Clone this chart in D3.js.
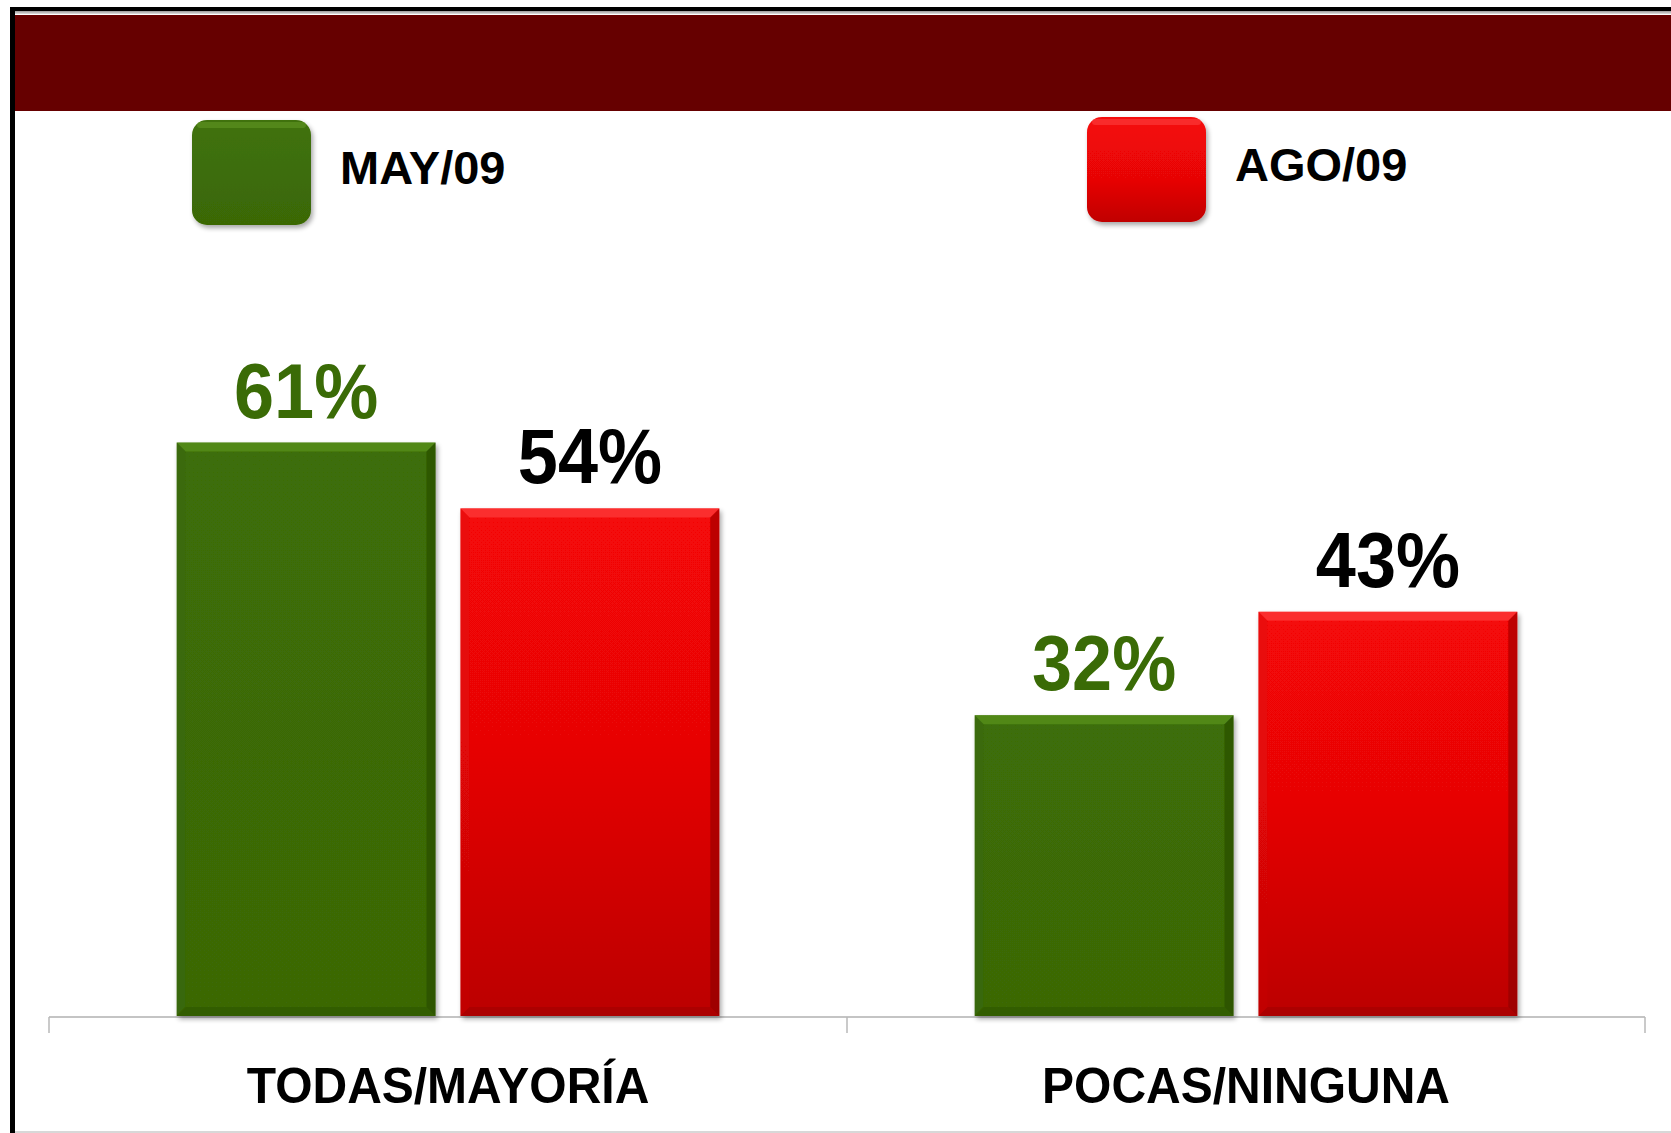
<!DOCTYPE html>
<html>
<head>
<meta charset="utf-8">
<script src="https://cdn.jsdelivr.net/npm/d3@7"></script>
<style>
html,body{margin:0;padding:0;background:#fff;}
svg{display:block;}
</style>
</head>
<body>
<script>
const categories = ["TODAS/MAYORÍA", "POCAS/NINGUNA"];
const series = ["MAY/09", "AGO/09"];
const mayValues = [61, 32];
const agoValues = [54, 43];
const valueLabels = [["61%", "54%"], ["32%", "43%"]];

const W = 1671, H = 1133;
const svg = d3.select("body").append("svg").attr("width", W).attr("height", H);
const defs = svg.append("defs");

function lin(id, stops, horiz) {
  const g = defs.append("linearGradient").attr("id", id).attr("x1", 0).attr("y1", 0)
    .attr("x2", horiz ? 1 : 0).attr("y2", horiz ? 0 : 1);
  stops.forEach(s => g.append("stop").attr("offset", s[0]).attr("stop-color", s[1]).attr("stop-opacity", s[2] === undefined ? 1 : s[2]));
}
lin("gRed", [[0, "#f50707"], [0.45, "#e80606"], [1, "#bb0404"]]);
lin("gGreen", [[0, "#3d6e07"], [1, "#3a6806"]]);
lin("gLegRed", [[0, "#f50808"], [0.6, "#e70606"], [1, "#c00404"]]);
lin("gLegGreen", [[0, "#40720a"], [1, "#3a6806"]]);
lin("gTopLine", [[0, "#9a9a9a"], [1, "#e0e0e0"]]);
const f = defs.append("filter").attr("id", "shadow").attr("x", "-10%").attr("y", "-10%").attr("width", "130%").attr("height", "130%");
f.append("feGaussianBlur").attr("in", "SourceAlpha").attr("stdDeviation", 2.5);
f.append("feOffset").attr("dx", 2).attr("dy", 3).attr("result", "ob");
f.append("feComponentTransfer").append("feFuncA").attr("type", "linear").attr("slope", 0.35);
const fm = f.append("feMerge");
fm.append("feMergeNode");
fm.append("feMergeNode").attr("in", "SourceGraphic");

// frame
svg.append("rect").attr("x", 10).attr("y", 7).attr("width", W - 10).attr("height", 4).attr("fill", "#000");
svg.append("rect").attr("x", 13).attr("y", 11).attr("width", W - 13).attr("height", 3).attr("fill", "url(#gTopLine)");
svg.append("rect").attr("x", 13).attr("y", 15).attr("width", W - 13).attr("height", 96).attr("fill", "#660000");
svg.append("rect").attr("x", 10).attr("y", 7).attr("width", 5).attr("height", H - 7).attr("fill", "#000");
svg.append("rect").attr("x", 15).attr("y", H - 2).attr("width", W - 15).attr("height", 2).attr("fill", "#d8d8d8");

// scales
const baseY = 1016;
const y = d3.scaleLinear().domain([0, 100]).range([baseY, baseY - 940]);
const x0 = d3.scaleBand().domain(categories).range([49, 1645]).paddingInner(0).paddingOuter(0);
const x1 = d3.scaleBand().domain(series).range([0, x0.bandwidth()]).paddingInner(0.088).paddingOuter(0.45);

const data = categories.map((c, i) => ({
  cat: c,
  vals: [
    { s: series[0], v: mayValues[i], label: valueLabels[i][0] },
    { s: series[1], v: agoValues[i], label: valueLabels[i][1] }
  ]
}));

const colors = {
  "MAY/09": { fill: "url(#gGreen)", light: "#5f9a22", dark: "#1f3d02", bottom: "#2c5004", left: "#35620a", text: "#3a6b06" },
  "AGO/09": { fill: "url(#gRed)", light: "#ff4a4a", dark: "#7a0000", bottom: "#9a0202", left: "#d00a0a", text: "#000" }
};

// axis
const axisG = svg.append("g").attr("transform", `translate(0,${baseY + 1})`);
const axis = d3.axisBottom(x0).tickSize(0).tickFormat("");
axisG.call(axis);
axisG.select(".domain").remove();
axisG.append("line").attr("x1", 49).attr("x2", 1645).attr("y1", 0).attr("y2", 0).attr("stroke", "#c4c4c4").attr("stroke-width", 2);
const tickXs = [x0(categories[0]), x0(categories[1]), x0(categories[1]) + x0.bandwidth()];
axisG.selectAll(".tk").data(tickXs).enter().append("line")
  .attr("x1", d => d).attr("x2", d => d).attr("y1", 0).attr("y2", 16)
  .attr("stroke", "#b8b8b8").attr("stroke-width", 1.5);

// bars
const groups = svg.selectAll(".grp").data(data).enter().append("g")
  .attr("transform", d => `translate(${x0(d.cat)},0)`);

const b = 9;
groups.each(function(d) {
  const g = d3.select(this);
  d.vals.forEach(v => {
    const bx = x1(v.s), bw = x1.bandwidth();
    const top = y(v.v), bot = y(0);
    const c = colors[v.s];
    const bar = g.append("g").attr("filter", "url(#shadow)");
    bar.append("rect").attr("x", bx).attr("y", top).attr("width", bw).attr("height", bot - top).attr("fill", c.fill);
    bar.append("path").attr("d", `M${bx},${top}L${bx + bw},${top}L${bx + bw - b},${top + b}L${bx + b},${top + b}Z`)
      .attr("fill", c.light).attr("opacity", 0.6);
    bar.append("path").attr("d", `M${bx + bw},${top}L${bx + bw},${bot}L${bx + bw - b},${bot - b}L${bx + bw - b},${top + b}Z`)
      .attr("fill", c.dark).attr("opacity", 0.45);
    bar.append("path").attr("d", `M${bx},${bot}L${bx + bw},${bot}L${bx + bw - b},${bot - b}L${bx + b},${bot - b}Z`)
      .attr("fill", c.bottom).attr("opacity", 0.45);
    bar.append("path").attr("d", `M${bx},${top}L${bx + b},${top + b}L${bx + b},${bot - b}L${bx},${bot}Z`)
      .attr("fill", c.left).attr("opacity", 0.25);
    g.append("text")
      .attr("transform", `translate(${bx + bw / 2},${top - 25}) scale(1,1.07)`)
      .attr("text-anchor", "middle")
      .attr("font-family", "Liberation Sans, Arial, sans-serif")
      .attr("font-weight", "bold")
      .attr("font-size", 72)
      .attr("fill", c.text)
      .text(v.label);
  });
});

// category labels
svg.selectAll(".cat").data(categories).enter().append("text")
  .attr("transform", d => `translate(${x0(d) + x0.bandwidth() / 2},1103) scale(1,1.04)`)
  .attr("text-anchor", "middle")
  .attr("font-family", "Liberation Sans, Arial, sans-serif")
  .attr("font-weight", "bold")
  .attr("font-size", 48)
  .attr("fill", "#000")
  .text(d => d);

// legend
const legendPos = [{ sx: 192, sy: 120, tx: 340, ty: 184 }, { sx: 1087, sy: 117, tx: 1235, ty: 181 }];
const legFill = { "MAY/09": "url(#gLegGreen)", "AGO/09": "url(#gLegRed)" };
const legLight = { "MAY/09": "#6aa22a", "AGO/09": "#ff5050" };
series.forEach((s, i) => {
  const p = legendPos[i];
  const lg = svg.append("g");
  lg.append("rect").attr("x", p.sx).attr("y", p.sy).attr("width", 119).attr("height", 105)
    .attr("rx", 15).attr("ry", 15).attr("fill", legFill[s]).attr("filter", "url(#shadow)");
  lg.append("rect").attr("x", p.sx + 5).attr("y", p.sy + 2).attr("width", 109).attr("height", 6)
    .attr("rx", 3).attr("fill", legLight[s]).attr("opacity", 0.45);
  lg.append("text").attr("x", p.tx).attr("y", p.ty)
    .attr("font-family", "Liberation Sans, Arial, sans-serif")
    .attr("font-weight", "bold").attr("font-size", 47).attr("fill", "#000").text(s);
});
</script>
</body>
</html>
